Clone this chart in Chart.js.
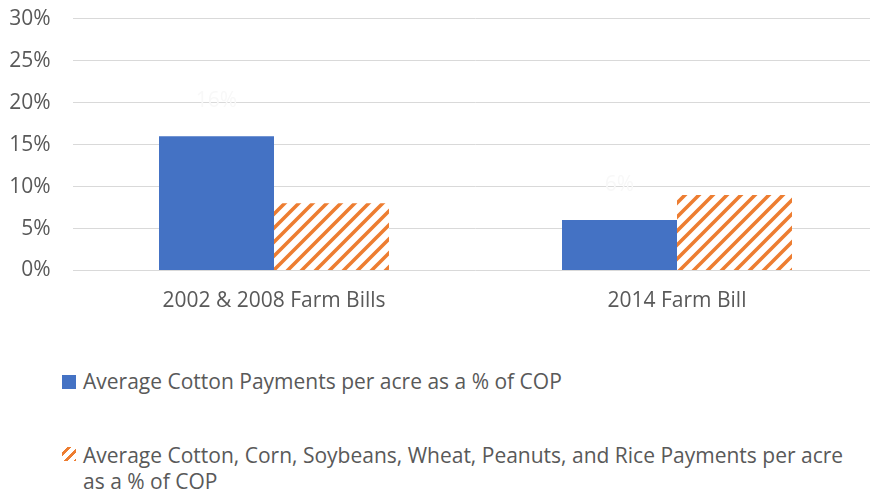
<!DOCTYPE html>
<html>
<head>
<meta charset="utf-8">
<title>Cotton payments per acre</title>
<script src="https://cdn.jsdelivr.net/npm/chart.js@4.4.1/dist/chart.umd.min.js"></script>
<style>
  body { margin: 0; background: #fff; overflow: hidden; font-family: "Open Sans", sans-serif; }
  #wrap { position: relative; width: 870px; height: 495px; overflow: hidden; }
  #chart { position: absolute; left: 0; top: -16px; }
  .legend-item { position: absolute; left: 62px; color: #595959; font-size: 21px; line-height: 26px; white-space: nowrap; }
  .swatch { position: absolute; left: 0; width: 14px; height: 14px; }
  .legend-text { margin-left: 21px; }
</style>
</head>
<body>
<div id="wrap">
  <canvas id="chart" width="879" height="356"></canvas>
  <div id="legend"></div>
</div>
<script>
// data
const categories = ['2002 & 2008 Farm Bills', '2014 Farm Bill'];
const cottonPct = [16, 6];
const allCropsPct = [8, 9];
const seriesNames = [
  'Average Cotton Payments per acre as a % of COP',
  'Average Cotton, Corn, Soybeans, Wheat, Peanuts, and Rice Payments per acre|as a % of COP'
];
const yTicks = [0, 5, 10, 15, 20, 25, 30];

const BLUE = '#4472C4';
const ORANGE = '#ED7D31';
const TEXT = '#595959';
const FONT = '"Open Sans", sans-serif';

// hatch pattern for the second series (orange diagonal stripes on white)
function makeHatch(color) {
  const s = 14;
  const c = document.createElement('canvas');
  c.width = s; c.height = s;
  const g = c.getContext('2d');
  g.fillStyle = '#fff';
  g.fillRect(0, 0, s, s);
  g.strokeStyle = color;
  g.lineWidth = 3.6;
  g.beginPath();
  g.moveTo(-s / 2, s / 2); g.lineTo(s / 2, -s / 2);
  g.moveTo(0, s); g.lineTo(s, 0);
  g.moveTo(s / 2, s * 1.5); g.lineTo(s * 1.5, s / 2);
  g.stroke();
  return g.createPattern(c, 'repeat');
}

// the faint (almost white) value labels above the blue bars
const faintLabels = {
  id: 'faintLabels',
  afterDatasetsDraw(chart) {
    const ctx = chart.ctx;
    const meta = chart.getDatasetMeta(0);
    ctx.save();
    ctx.fillStyle = '#f8f8f8';
    ctx.font = '21px ' + FONT;
    ctx.textAlign = 'center';
    ctx.textBaseline = 'middle';
    meta.data.forEach((bar, i) => {
      ctx.fillText(cottonPct[i] + '%', bar.x, bar.y - 35);
    });
    ctx.restore();
  }
};

const hatch = makeHatch(ORANGE);

new Chart(document.getElementById('chart'), {
  type: 'bar',
  data: {
    labels: categories,
    datasets: [
      { label: seriesNames[0], data: cottonPct, backgroundColor: BLUE },
      { label: seriesNames[1], data: allCropsPct, backgroundColor: hatch }
    ]
  },
  options: {
    responsive: false,
    animation: false,
    layout: { padding: { top: 1, right: 0.5, bottom: 0, left: 0 } },
    datasets: { bar: { categoryPercentage: 0.5707, barPercentage: 1 } },
    plugins: { legend: { display: false }, tooltip: { enabled: false } },
    scales: {
      x: {
        grid: { display: false, drawTicks: false },
        border: { display: false },
        ticks: { color: TEXT, padding: 18, font: { family: FONT, size: 21 } },
        afterFit: (scale) => { scale.height = 69.5; }
      },
      y: {
        min: yTicks[0],
        max: yTicks[yTicks.length - 1],
        afterBuildTicks: (scale) => { scale.ticks = yTicks.map(v => ({ value: v })); },
        grid: { color: '#d9d9d9', lineWidth: 1, drawTicks: false },
        border: { display: false },
        ticks: {
          color: TEXT,
          padding: 22,
          font: { family: FONT, size: 21 },
          callback: (v) => v + '%'
        },
        afterFit: (scale) => { scale.width = 72.5; }
      }
    }
  },
  plugins: [faintLabels]
});

// legend (html, so the long entry can wrap like the original)
const legend = document.getElementById('legend');
const legendTops = [368, 442];
const swatchTops = [7, 5];
seriesNames.forEach((name, i) => {
  const item = document.createElement('div');
  item.className = 'legend-item';
  item.style.top = legendTops[i] + 'px';
  const sw = document.createElement('div');
  sw.className = 'swatch';
  sw.style.top = swatchTops[i] + 'px';
  sw.style.background = i === 0 ? BLUE :
    'repeating-linear-gradient(135deg, #fff 0 4px, ' + ORANGE + ' 4px 7px)';
  const txt = document.createElement('div');
  txt.className = 'legend-text';
  txt.innerHTML = name.split('|').join('<br>');
  item.appendChild(sw);
  item.appendChild(txt);
  legend.appendChild(item);
});
</script>
</body>
</html>
